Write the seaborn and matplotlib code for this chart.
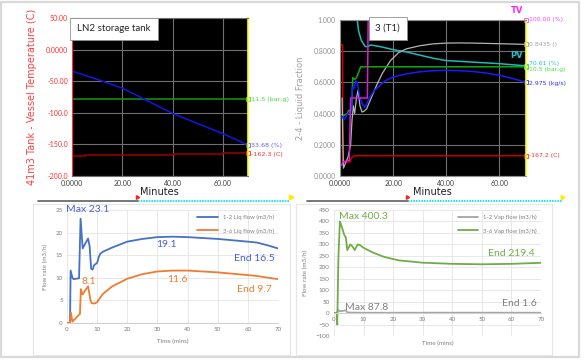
import matplotlib
matplotlib.use("Agg")
import matplotlib.pyplot as plt
import seaborn as sns
import numpy as np
from matplotlib.patches import Rectangle
from matplotlib.lines import Line2D

sns.set_style("white")
plt.rcParams['font.family'] = ['Lato', 'DejaVu Sans']

# ---------------- data ----------------
# Top-left: LN2 storage tank (minutes)
tl_press_x = [0, 70]
tl_press_y = [-78.8, -78.8]
tl_level_x = [0, 10, 20, 30, 40, 50, 60, 70]
tl_level_y = [-34, -47, -61, -81, -101, -117, -133, -151]
tl_temp_x = [0, 5, 20, 40, 48, 60, 70]
tl_temp_y = [-168.5, -167.5, -166.5, -165.5, -164.5, -163.5, -163.5]
tl_labels = ["11.5 (bar,g)", "33.68 (%)", "-162.3 (C)"]

# Top-right: 3 (T1)
tr_tv_x = [0, 0.8, 1.0, 3.5, 4.0, 10.3, 10.6, 70]
tr_tv_y = [0.07, 0.07, 0.09, 0.10, 0.50, 0.50, 1.0, 1.0]
tr_pv_x = [0, 6.5, 7.0, 8, 9.5, 10.5, 11.5, 15, 20, 25, 30, 35, 40, 50, 60, 70]
tr_pv_y = [1.0, 1.0, 0.93, 0.87, 0.83, 0.83, 0.84, 0.83, 0.81, 0.795, 0.775, 0.755, 0.74, 0.73, 0.72, 0.706]
tr_lf_x = [0.8, 1.0, 1.3, 2.0, 3.0, 4.0, 4.5, 5.0, 5.5, 6.2, 6.8, 7.5, 8.3, 9.0, 10, 11, 12.5, 14, 16, 19,
           22, 25, 30, 35, 40, 45, 50, 55, 60, 65, 70]
tr_lf_y = [0.5, 0.3, 0.05, 0.08, 0.12, 0.2, 0.35, 0.45, 0.40, 0.50, 0.55, 0.45, 0.41, 0.415, 0.43, 0.47, 0.53,
           0.59, 0.66, 0.74, 0.79, 0.815, 0.835, 0.847, 0.852, 0.853, 0.852, 0.85, 0.848, 0.846, 0.8435]
tr_press_x = [1.0, 1.5, 2.8, 3.2, 4.4, 4.8, 5.5, 6.2, 7.8, 70]
tr_press_y = [0.38, 0.39, 0.40, 0.42, 0.42, 0.63, 0.62, 0.63, 0.70, 0.70]
tr_flow_x = [1.0, 1.5, 2.5, 3.5, 4.3, 4.6, 5.2, 6.0, 6.5, 7.5, 8.5, 9.3, 10, 11, 13, 15, 17, 20, 25, 30, 35,
             40, 45, 50, 55, 60, 65, 70]
tr_flow_y = [0.38, 0.36, 0.39, 0.41, 0.42, 0.57, 0.56, 0.61, 0.60, 0.50, 0.46, 0.44, 0.46, 0.50, 0.55, 0.58,
             0.61, 0.635, 0.655, 0.668, 0.675, 0.677, 0.675, 0.67, 0.66, 0.645, 0.625, 0.60]
tr_temp_x = [0, 1.0, 1.1, 1.5, 3.8, 4.5, 5.5, 70]
tr_temp_y = [0.84, 0.84, 0.08, 0.09, 0.09, 0.12, 0.13, 0.13]
tr_labels = ["100.00 (%)", "0.8435 ()", "70.61 (%)", "10.5 (bar,g)", "2.975 (kg/s)", "-167.2 (C)"]

# Bottom-left: liquid flows
liq12_x = [0, 1, 1.2, 1.8, 2.2, 4, 4.5, 5.2, 6, 7, 7.5, 8, 8.5, 9, 10, 10.5, 11, 12, 15, 20, 25, 30, 35,
           40, 45, 50, 55, 60, 63, 67, 70]
liq12_y = [0, 0, 11.6, 10, 9.7, 9.9, 23.1, 16.5, 17.5, 18.7, 17, 12, 11.8, 12.8, 13.3, 14.5, 15.3, 15.8,
           16.7, 18.0, 18.6, 19.0, 19.1, 19.0, 18.8, 18.6, 18.3, 18.0, 17.8, 17.1, 16.5]
liq36_x = [0, 1, 1.3, 1.8, 2.5, 4.3, 4.6, 5.2, 6, 7, 7.8, 8.2, 9, 10, 11, 12, 15, 20, 25, 30, 35, 40, 45,
           50, 55, 60, 63, 67, 70]
liq36_y = [0, 0, 2.3, 0.3, 0.8, 2, 7.5, 6.3, 7.2, 8.1, 5, 4.4, 4.3, 4.6, 5.6, 6.5, 8.1, 9.8, 10.8, 11.4,
           11.6, 11.6, 11.4, 11.2, 10.9, 10.6, 10.4, 10.0, 9.7]

# Bottom-right: vapour flows
vap12_x = [0, 1, 1.3, 2, 3, 4, 4.5, 6, 10, 70]
vap12_y = [0, 0, 15, 8, 10, 12, 3, 2, 1.5, 1.6]
vap36_x = [0, 0.9, 1.1, 1.5, 2.0, 2.8, 3.5, 4.0, 4.5, 5.5, 6.3, 7, 8, 9, 10, 13, 17, 22, 30, 40, 50, 60, 70]
vap36_y = [0, 0, -50, 250, 400.3, 370, 340, 330, 275, 300, 290, 275, 300, 295, 285, 265, 245, 230, 220,
           215, 213, 215, 219.4]

W, H = 586, 362
fig = plt.figure(figsize=(W / 100, H / 100), dpi=100)
fig.patch.set_facecolor("white")


def px_axes(x0, y0, x1, y1, **kw):
    return fig.add_axes([x0 / W, 1 - y1 / H, (x1 - x0) / W, (y1 - y0) / H], **kw)


def line(ax, x, y, color, lw=1.1, **kw):
    sns.lineplot(x=x, y=y, ax=ax, color=color, linewidth=lw, sort=False, estimator=None, **kw)


# ---------------- top-left ----------------
ax1 = px_axes(72, 18, 248, 176)
ax1.set_facecolor("black")
line(ax1, tl_press_x, tl_press_y, "#109a10")
line(ax1, tl_level_x, tl_level_y, "#1414e6")
line(ax1, tl_temp_x, tl_temp_y, "#a00000", drawstyle="steps-post")
ax1.set_xlim(0, 70)
ax1.set_ylim(-200, 50)
ax1.set_xticks([0, 20, 40, 60])
ax1.set_xticklabels(["0.0000", "20.00", "40.00", "60.00"])
ax1.set_yticks([-200, -150, -100, -50, 0, 50])
ax1.set_yticklabels(["-200.0", "-150.0", "-100.0", "-50.00", "0.0000", "50.00"])
ax1.tick_params(axis="y", colors="#ff3030", labelsize=5, length=2, pad=1)
ax1.tick_params(axis="x", colors="#404040", labelsize=5, length=2, pad=1)
ax1.grid(True, color="#707070", linewidth=0.8)
ax1.spines["left"].set_color("#ff3030")
ax1.spines["right"].set_color("#ffff00")
ax1.spines["right"].set_linewidth(1.2)
ax1.spines["top"].set_color("#707070")
ax1.spines["bottom"].set_color("#707070")
ax1.set_ylabel("41m3 Tank - Vessel Temperature (C)", color="#ff4040", fontsize=7.0,
               family=["DejaVu Sans"], labelpad=6)
ax1.text(0.03, 0.96, "LN2 storage tank", transform=ax1.transAxes, fontsize=7, va="top", ha="left",
         bbox=dict(boxstyle="square,pad=0.7", fc="white", ec="#909090", lw=0.6))
tl_colors = ["#40e040", "#6060ff", "#ff3030"]
tl_ends = [tl_press_y[-1], tl_level_y[-1], tl_temp_y[-1]]
for lab, yv, c, dy in zip(tl_labels, tl_ends, tl_colors, [0, 0, -2]):
    ax1.plot([70], [yv], marker="s", ms=2.5, mfc="none", mec=c, mew=0.6, clip_on=False)
    ax1.text(71.2, yv + dy, lab, color=c, fontsize=4.6, va="center", ha="left", family=["DejaVu Sans"])

# ---------------- top-right ----------------
ax2 = px_axes(340, 20, 526, 176)
ax2.set_facecolor("black")
line(ax2, tr_temp_x, tr_temp_y, "#c80000")
line(ax2, tr_pv_x, tr_pv_y, "#20b8b8")
line(ax2, tr_lf_x, tr_lf_y, "#b4b4b4", lw=0.9)
line(ax2, tr_press_x, tr_press_y, "#10a810")
line(ax2, tr_flow_x, tr_flow_y, "#1a1aff")
line(ax2, tr_tv_x, tr_tv_y, "#d020d0")
ax2.set_xlim(0, 70)
ax2.set_ylim(0, 1.0)
ax2.set_xticks([0, 20, 40, 60])
ax2.set_xticklabels(["0.0000", "20.00", "40.00", "60.00"])
ax2.set_yticks([0, 0.2, 0.4, 0.6, 0.8, 1.0])
ax2.set_yticklabels(["0.0000", "0.2000", "0.4000", "0.6000", "0.8000", "1.000"])
ax2.tick_params(axis="y", colors="#909090", labelsize=5, length=2, pad=1)
ax2.tick_params(axis="x", colors="#404040", labelsize=5, length=2, pad=1)
ax2.grid(True, color="#707070", linewidth=0.8)
for s in ["left", "top", "bottom"]:
    ax2.spines[s].set_color("#909090")
ax2.spines["right"].set_color("#ffff00")
ax2.spines["right"].set_linewidth(1.2)
ax2.set_ylabel("2-4 - Liquid Fraction", color="#a0a0a0", fontsize=6.0, family=["DejaVu Sans"], labelpad=6)
ax2.text(0.19, 0.975, "3 (T1)", transform=ax2.transAxes, fontsize=7, va="top", ha="left",
         bbox=dict(boxstyle="square,pad=0.7", fc="white", ec="#909090", lw=0.6))
tr_colors = ["#ff40ff", "#a0a0a0", "#20c8c8", "#40e040", "#3030ff", "#ff3030"]
tr_ends = [tr_tv_y[-1], tr_lf_y[-1], tr_pv_y[-1], tr_press_y[-1], tr_flow_y[-1], tr_temp_y[-1]]
tr_dy = [0, 0, 0.012, -0.018, -0.005, 0]
for lab, yv, c, dy in zip(tr_labels, tr_ends, tr_colors, tr_dy):
    ax2.plot([70], [yv], marker="s", ms=2.5, mfc="none", mec=c, mew=0.6, clip_on=False)
    ax2.text(71.0, yv + dy, lab, color=c, fontsize=4.4, va="center", ha="left", family=["DejaVu Sans"])
ax2.text(66.5, 1.035, "TV", color="#ff20ff", fontsize=6, fontweight="bold", ha="center", va="bottom",
         family=["DejaVu Sans"])
ax2.text(66.5, 0.775, "PV", color="#20c0c0", fontsize=6, fontweight="bold", ha="center", va="center",
         family=["DejaVu Sans"])

# ---------------- bottom-left ----------------
blue, orange, green, grey = "#4472c4", "#ed7d31", "#70ad47", "#a5a5a5"
ax3 = px_axes(67, 210, 278, 323)
line(ax3, liq12_x, liq12_y, blue, lw=1.3, label="1-2 Liq flow (m3/h)")
line(ax3, liq36_x, liq36_y, orange, lw=1.3, label="3-6 Liq flow (m3/h)")
ax3.set_xlim(0, 70)
ax3.set_ylim(0, 25)
ax3.set_xticks(range(0, 71, 10))
ax3.set_yticks(range(0, 26, 5))
ax3.grid(True, color="#e4e4e4", linewidth=0.6)
for s in ["top", "right", "left"]:
    ax3.spines[s].set_visible(False)
ax3.spines["bottom"].set_color("#d0d0d0")
ax3.tick_params(labelsize=4.5, colors="#808080", length=0, pad=3)
ax3.set_xlabel("Time (mins)", fontsize=4.5, color="#808080", labelpad=5)
ax3.set_ylabel("Flow rate (m3/h)", fontsize=4.5, color="#808080", labelpad=5)
leg = ax3.legend(loc="upper right", bbox_to_anchor=(1.0, 1.0), frameon=False, fontsize=4.3,
                 handlelength=3.5, labelspacing=1.4, borderaxespad=0.3)
for t in leg.get_texts():
    t.set_color("#808080")
ann_blue, ann_orange = "#4a5de0", "#ed7d31"
ax3.text(-0.4, 25.0, "Max 23.1", color=ann_blue, fontsize=7.5, ha="left", va="center")
ax3.text(33.0, 17.3, "19.1", color=ann_blue, fontsize=7.5, ha="center", va="center")
ax3.text(69.0, 14.2, "End 16.5", color=ann_blue, fontsize=7.5, ha="right", va="center")
ax3.text(7.1, 9.1, "8.1", color=ann_orange, fontsize=7.5, ha="center", va="center")
ax3.text(36.5, 9.7, "11.6", color=ann_orange, fontsize=7.5, ha="center", va="center")
ax3.text(68.0, 7.5, "End 9.7", color=ann_orange, fontsize=7.5, ha="right", va="center")

# ---------------- bottom-right ----------------
ax4 = px_axes(334, 210, 541, 336)
line(ax4, vap12_x, vap12_y, grey, lw=1.3, label="1-2 Vap flow (m3/h)")
line(ax4, vap36_x, vap36_y, green, lw=1.3, label="3-6 Vap flow (m3/h)")
ax4.set_xlim(0, 70)
ax4.set_ylim(-100, 450)
ax4.set_xticks(range(0, 71, 10))
ax4.set_yticks(range(-100, 451, 50))
ax4.grid(True, color="#e4e4e4", linewidth=0.6)
for s in ["top", "right", "left"]:
    ax4.spines[s].set_visible(False)
ax4.spines["bottom"].set_position(("data", 0))
ax4.spines["bottom"].set_color("#d0d0d0")
ax4.tick_params(labelsize=4.5, colors="#808080", length=0, pad=3)
ax4.set_xlabel("Time (mins)", fontsize=4.5, color="#808080", labelpad=5)
ax4.xaxis.set_label_coords(0.5, -0.035)
ax4.set_ylabel("Flow rate (m3/h)", fontsize=4.5, color="#808080", labelpad=5)
leg = ax4.legend(loc="upper right", bbox_to_anchor=(1.0, 1.0), frameon=False, fontsize=4.3,
                 handlelength=3.5, labelspacing=1.4, borderaxespad=0.3)
for t in leg.get_texts():
    t.set_color("#808080")
ann_green, ann_grey = "#70ad47", "#808080"
ax4.text(1.7, 421, "Max 400.3", color=ann_green, fontsize=7.5, ha="left", va="center")
ax4.text(68.0, 261, "End 219.4", color=ann_green, fontsize=7.5, ha="right", va="center")
ax4.text(3.7, 24, "Max 87.8", color=ann_grey, fontsize=7.5, ha="left", va="center")
ax4.text(68.5, 43, "End 1.6", color=ann_grey, fontsize=7.5, ha="right", va="center")

# ---------------- overlay decorations ----------------
ov = fig.add_axes([0, 0, 1, 1], zorder=-1)
ov.set_xlim(0, W)
ov.set_ylim(H, 0)
ov.axis("off")
ov.add_patch(Rectangle((1, 2), 578, 355, fill=False, ec="#d9d9d9", lw=1.6))
ov.add_patch(Rectangle((33, 204), 257, 151, fill=False, ec="#e6e6e6", lw=0.8))
ov.add_patch(Rectangle((296, 204), 256, 151, fill=False, ec="#e6e6e6", lw=0.8))
ov2 = fig.add_axes([0, 0, 1, 1], zorder=5)
ov2.set_xlim(0, W)
ov2.set_ylim(H, 0)
ov2.axis("off")
ov2.patch.set_alpha(0)
for (gx0, gx1, cx1, mx, label_x) in [(38, 138, 290, 138, 159), (307, 408, 562, 408, 432)]:
    ov2.add_line(Line2D([gx0, gx1], [201, 201], color="#606060", lw=1.2))
    ov2.add_line(Line2D([gx1, cx1], [201, 201], color="#00e5ee", lw=1.2, ls=(0, (1, 0.6))))
    ov2.plot([mx - 1], [197], marker=(3, 0, 30), color="#ff2020", ms=3)
    ov2.plot([cx1], [197], marker=(3, 0, 30), color="#ffee00", ms=3.5)
    ov2.text(label_x, 192, "Minutes", fontsize=7, ha="center", va="center", color="#202020",
             family=["DejaVu Sans"])
ov2.plot([291], [197], marker=(3, 0, 30), color="#ffee00", ms=3.5)

fig.savefig("out.png", dpi=100)
